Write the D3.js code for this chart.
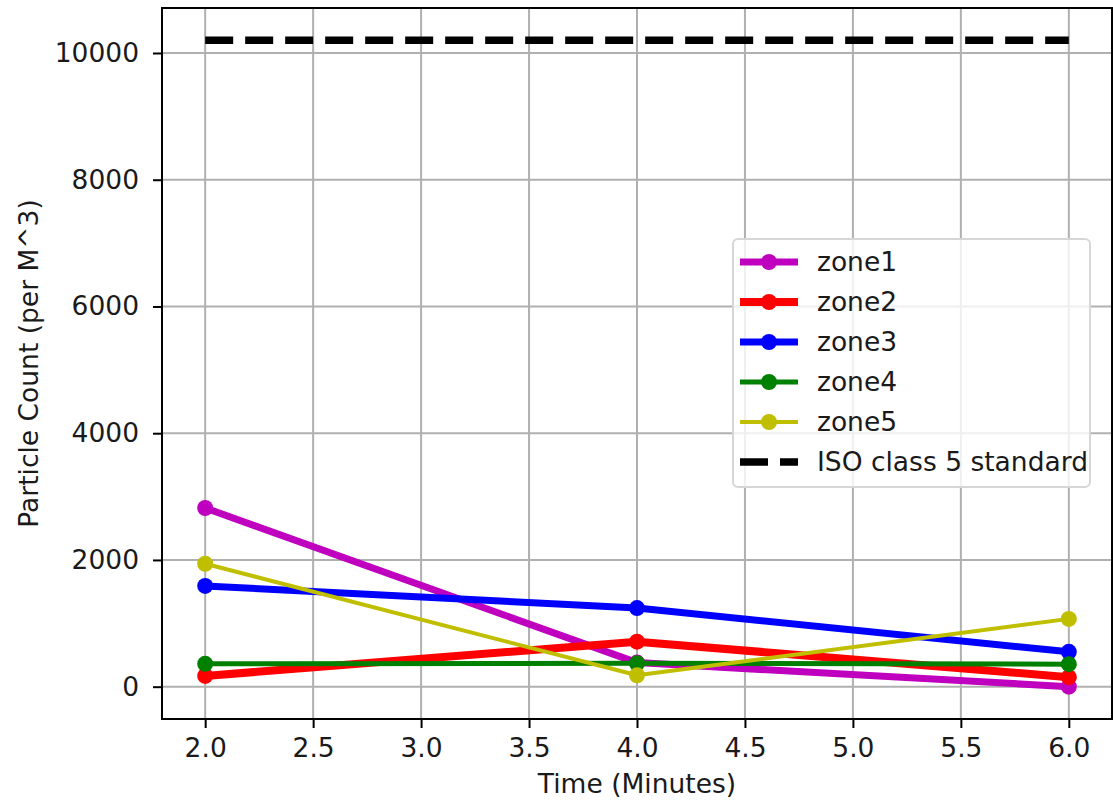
<!DOCTYPE html>
<html>
<head>
<meta charset="utf-8">
<script src="https://cdn.jsdelivr.net/npm/d3@7"></script>
<style>
  body { margin: 0; background: #fff; }
  svg { display: block; font-family: "DejaVu Sans", sans-serif; }
</style>
</head>
<body>
<svg id="chart" width="1113" height="800"></svg>
<script>
// ---- data ----
const times = [2.0, 4.0, 6.0];
const zone1 = [2820, 380, 0];
const zone2 = [170, 710, 150];
const zone3 = [1590, 1240, 550];
const zone4 = [360, 370, 355];
const zone5 = [1940, 180, 1070];
const isoStandard = 10200;
const seriesNames = ["zone1", "zone2", "zone3", "zone4", "zone5"];
const seriesColors = ["#bf00bf", "#ff0000", "#0000ff", "#008000", "#bfbf00"];
const seriesWidths = [7, 8, 7, 5, 4];
const xTicks = [2.0, 2.5, 3.0, 3.5, 4.0, 4.5, 5.0, 5.5, 6.0];
const yTicks = [0, 2000, 4000, 6000, 8000, 10000];
const xLabel = "Time (Minutes)";
const yLabel = "Particle Count (per M^3)";
const isoLabel = "ISO class 5 standard";

const series = [zone1, zone2, zone3, zone4, zone5].map((vals, i) => ({
  name: seriesNames[i], color: seriesColors[i], width: seriesWidths[i],
  points: vals.map((v, j) => ({ x: times[j], y: v }))
}));

// ---- layout ----
const FS = 26.5;
const pL = 162, pR = 1112, pT = 8, pB = 719;
const svg = d3.select("#chart");
const x = d3.scaleLinear().domain([1.8, 6.2]).range([pL, pR]);
const y = d3.scaleLinear().domain([-510, 10710]).range([pB, pT]);

// grid
const grid = svg.append("g").attr("stroke", "#b0b0b0").attr("stroke-width", 2);
grid.selectAll("line.vx").data(xTicks).join("line")
  .attr("x1", d => x(d)).attr("x2", d => x(d)).attr("y1", pT).attr("y2", pB);
grid.selectAll("line.hy").data(yTicks).join("line")
  .attr("x1", pL).attr("x2", pR).attr("y1", d => y(d)).attr("y2", d => y(d));

// axes
const fmtX = d3.format(".1f");
const xAxis = svg.append("g").attr("transform", `translate(0,${pB})`)
  .call(d3.axisBottom(x).tickValues(xTicks).tickFormat(fmtX).tickSize(9).tickPadding(10));
const yAxis = svg.append("g").attr("transform", `translate(${pL},0)`)
  .call(d3.axisLeft(y).tickValues(yTicks).tickFormat(d3.format("d")).tickSize(9).tickPadding(14));
[xAxis, yAxis].forEach(a => {
  a.select(".domain").remove();
  a.selectAll(".tick line").attr("stroke", "#000").attr("stroke-width", 2);
  a.selectAll(".tick text").attr("font-size", FS).attr("fill", "#1a1a1a")
    .attr("font-family", "DejaVu Sans, sans-serif");
});

// series lines
const line = d3.line().x(d => x(d.x)).y(d => y(d.y));
const gS = svg.append("g");
series.forEach(s => {
  gS.append("path").datum(s.points).attr("d", line)
    .attr("fill", "none").attr("stroke", s.color).attr("stroke-width", s.width)
    .attr("stroke-linejoin", "round").attr("stroke-linecap", "butt");
  gS.selectAll(null).data(s.points).join("circle")
    .attr("cx", d => x(d.x)).attr("cy", d => y(d.y)).attr("r", 8).attr("fill", s.color);
});

// ISO line
svg.append("line")
  .attr("x1", x(times[0])).attr("x2", x(times[times.length - 1]))
  .attr("y1", y(isoStandard)).attr("y2", y(isoStandard))
  .attr("stroke", "#000").attr("stroke-width", 7.5).attr("stroke-dasharray", "28,12");

// spines
svg.append("rect").attr("x", pL).attr("y", pT).attr("width", pR - pL).attr("height", pB - pT)
  .attr("fill", "none").attr("stroke", "#000").attr("stroke-width", 2);

// axis labels
svg.append("text").attr("x", (pL + pR) / 2).attr("y", 793).attr("text-anchor", "middle")
  .attr("font-size", FS).attr("fill", "#1a1a1a").text(xLabel);
svg.append("text").attr("transform", `translate(38,${(pT + pB) / 2}) rotate(-90)`)
  .attr("text-anchor", "middle").attr("font-size", FS).attr("fill", "#1a1a1a").text(yLabel);

// legend
const lg = svg.append("g");
lg.append("rect").attr("x", 733).attr("y", 239).attr("width", 357).attr("height", 248)
  .attr("rx", 5).attr("fill", "rgba(255,255,255,0.8)").attr("stroke", "#d6d6d6").attr("stroke-width", 2);
const rowY = i => 262 + i * 40;
series.forEach((s, i) => {
  lg.append("line").attr("x1", 740).attr("x2", 798).attr("y1", rowY(i)).attr("y2", rowY(i))
    .attr("stroke", s.color).attr("stroke-width", s.width);
  lg.append("circle").attr("cx", 769).attr("cy", rowY(i)).attr("r", 8).attr("fill", s.color);
  lg.append("text").attr("x", 817).attr("y", rowY(i)).attr("dy", "0.35em")
    .attr("font-size", FS).attr("fill", "#1a1a1a").text(s.name);
});
lg.append("line").attr("x1", 740).attr("x2", 798).attr("y1", rowY(5)).attr("y2", rowY(5))
  .attr("stroke", "#000").attr("stroke-width", 7.5).attr("stroke-dasharray", "28,12");
lg.append("text").attr("x", 817).attr("y", rowY(5)).attr("dy", "0.35em")
  .attr("font-size", FS).attr("fill", "#1a1a1a").text(isoLabel);
</script>
</body>
</html>
